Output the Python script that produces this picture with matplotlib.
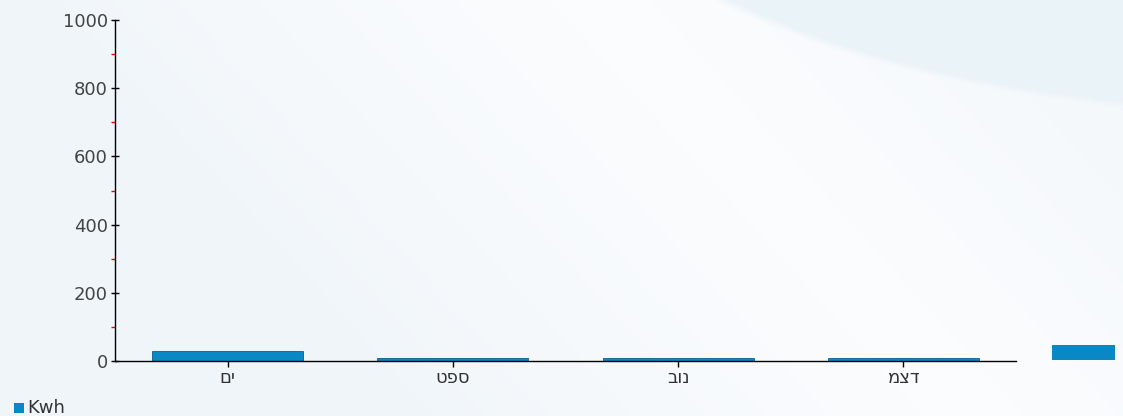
import numpy as np
import matplotlib
matplotlib.use("Agg")
import matplotlib.pyplot as plt
from matplotlib.patches import Rectangle

# labels stored so that they appear as in the reference picture
categories = ["םי", "טפס", "בונ", "מצד"]
kwh = [28, 8, 8, 8]
y_ticks = [0, 200, 400, 600, 800, 1000]
y_minor = [100, 300, 500, 700, 900]
series_name = "Kwh"

bar_color = "#0a88c6"
W, H = 1123, 416
fig = plt.figure(figsize=(W / 100, H / 100), dpi=100)
FONT = ["DejaVu Sans Condensed", "Liberation Sans Narrow", "DejaVu Sans"]

# background gradient
bg = fig.add_axes([0, 0, 1, 1])
yy, xx = np.mgrid[0:H, 0:W]
base = np.array([0.940, 0.962, 0.978])
light = np.array([0.985, 0.990, 0.997])
blue = np.array([0.920, 0.955, 0.970])
t = np.clip(1 - np.abs((xx - 0.9 * yy) - 600) / 560, 0, 1) ** 0.7
img = base[None, None, :] * (1 - t[..., None]) + light[None, None, :] * t[..., None]
d = ((xx - 1300) / 757) ** 2 + ((yy + 200) / 316) ** 2
m = np.clip((1.0 - d) * 25, 0, 1)
img = img * (1 - m[..., None]) + blue[None, None, :] * m[..., None]
bg.imshow(img, aspect="auto", extent=[0, 1, 0, 1], origin="upper")
bg.set_axis_off()

ax = fig.add_axes([115 / W, 1 - 361 / H, (1016 - 115) / W, (361 - 20) / H])
ax.patch.set_alpha(0)
x = np.arange(len(categories))
ax.bar(x, kwh, width=0.67, color=bar_color, edgecolor="#07618f", linewidth=0.6, zorder=2)
ax.set_xlim(-0.5, len(categories) - 0.5)
ax.set_ylim(0, 1000)
ax.set_yticks(y_ticks)
ax.set_yticks(y_minor, minor=True)
ax.set_xticks(x)
ax.set_xticklabels(categories, fontsize=13, color="#333333", family=FONT)
ax.set_yticklabels([str(v) for v in y_ticks], fontsize=13, color="#444444", family=FONT)
ax.tick_params(axis="y", which="major", direction="inout", length=6, width=1, color="black", pad=2)
ax.tick_params(axis="y", which="minor", direction="out", length=3, width=1, color="red")
ax.tick_params(axis="x", which="major", direction="out", length=4, width=1, color="black", pad=2)
for s in ["top", "right"]:
    ax.spines[s].set_visible(False)
for s in ["left", "bottom"]:
    ax.spines[s].set_color("black")
    ax.spines[s].set_linewidth(1)

fig.patches.append(Rectangle((1052 / W, 1 - 360 / H), 63 / W, 15 / H,
                             transform=fig.transFigure, facecolor=bar_color,
                             edgecolor="none", zorder=3))
fig.patches.append(Rectangle((14 / W, 1 - 413 / H), 10 / W, 10 / H,
                             transform=fig.transFigure, facecolor=bar_color,
                             edgecolor="none", zorder=3))
fig.text(27 / W, 1 - 408 / H, series_name, fontsize=13, color="#333333",
         va="center", ha="left", family=FONT)

fig.savefig("out.png", dpi=100)
